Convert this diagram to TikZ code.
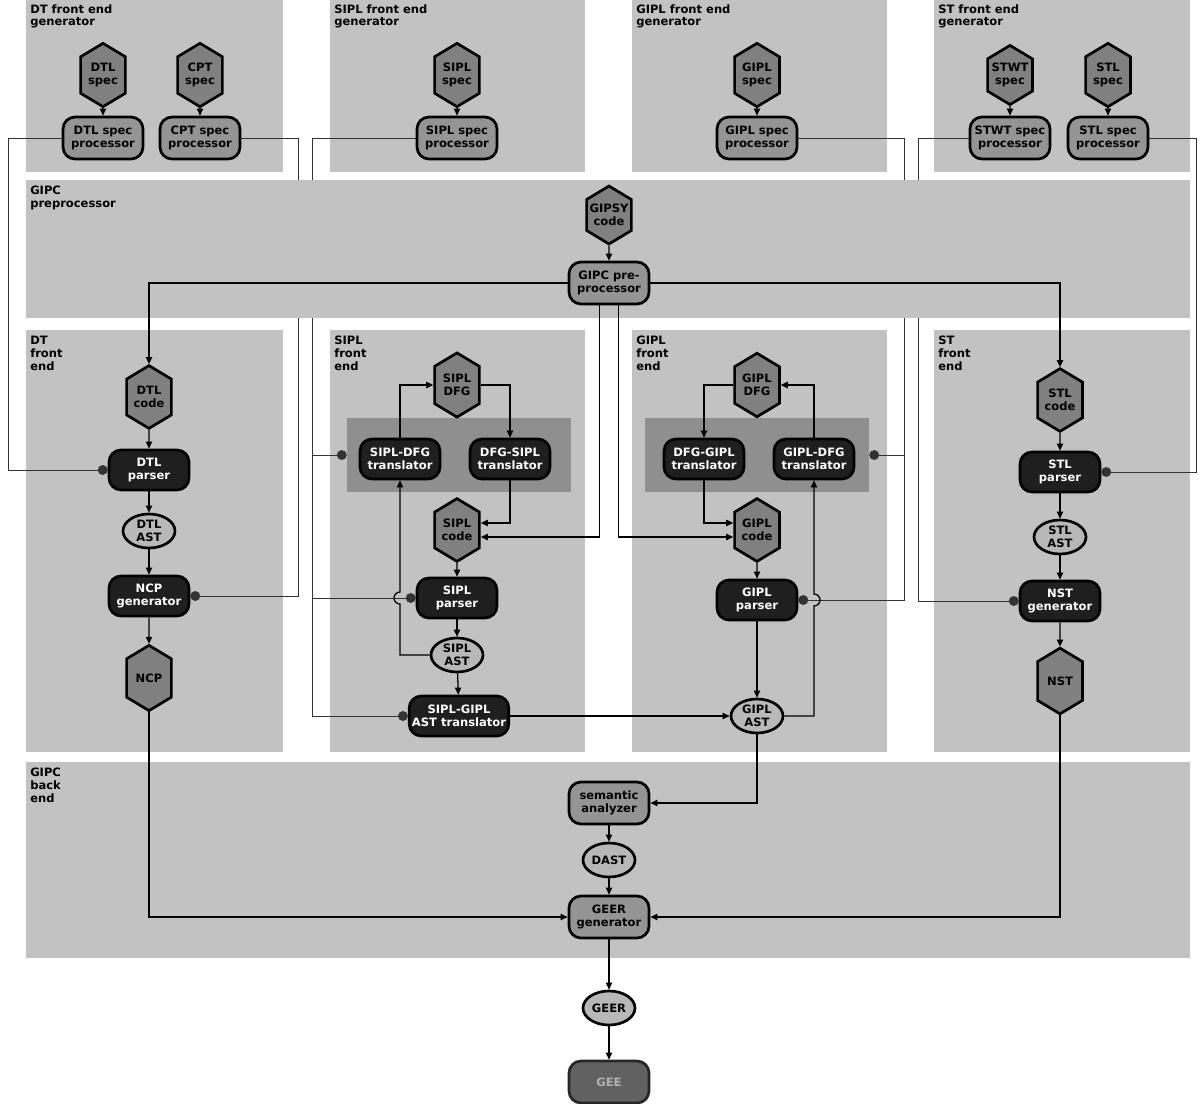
\documentclass[tikz,border=0pt]{standalone}
\usepackage{fontspec}
\setmainfont{DejaVu Sans}
\usetikzlibrary{arrows.meta,shapes.geometric,shapes.symbols,calc}
\pgfdeclarelayer{back}
\pgfdeclarelayer{wires}
\pgfsetlayers{back,wires,main}
\newcommand\boxfont{\fontsize{8.2}{9.2}\selectfont\bfseries}

\begin{document}
\begin{tikzpicture}[x=0.025cm,y=-0.025cm,
  panel/.style={fill=black!24},
  plabel/.style={anchor=north west, align=left, inner sep=0pt, font=\boxfont},
  group/.style={fill=black!44, minimum width=5.6cm, minimum height=1.85cm},
  hexa/.style={signal, signal to=north and south, signal pointer angle=118,
    draw=black, line width=1.9pt, fill=black!50, minimum width=1.12cm,
    minimum height=1.4cm, inner sep=1pt, align=center, font=\boxfont},
  proc/.style={rectangle, rounded corners=0.3cm, draw=black, line width=1.9pt,
    fill=black!42, minimum width=2cm, minimum height=1.05cm, inner sep=2pt,
    align=center, font=\boxfont},
  tool/.style={rectangle, rounded corners=0.3cm, draw=black, line width=1.9pt,
    fill=black!88, text=white, minimum width=2cm, minimum height=1cm,
    inner sep=2pt, align=center, font=\boxfont},
  datum/.style={ellipse, draw=black, line width=1.9pt, fill=black!28,
    minimum width=1.3cm, minimum height=0.85cm, inner sep=0pt, align=center,
    font=\boxfont},
  gee/.style={rectangle, rounded corners=0.3cm, draw=black!85, line width=1.9pt,
    fill=black!62, text=black!30, minimum width=2cm, minimum height=1.05cm,
    font=\boxfont},
  flow/.style={draw=black, line width=0.9pt, -{Triangle[length=5pt,width=4.5pt]}},
  spec/.style={draw=black!80, line width=0.5pt, -{Circle[length=7pt]}}]
\useasboundingbox (0,0) rectangle (1204,1104);

% panels
\begin{pgfonlayer}{back}
\fill[panel] (26,0) rectangle (283,172);
\fill[panel] (330,0) rectangle (585,172);
\fill[panel] (632,0) rectangle (887,172);
\fill[panel] (934,0) rectangle (1190,172);
\fill[panel] (26,330) rectangle (283,752);
\fill[panel] (330,330) rectangle (585,752);
\fill[panel] (632,330) rectangle (887,752);
\fill[panel] (934,330) rectangle (1190,752);
\fill[panel] (26,762) rectangle (1190,958);
\end{pgfonlayer}
\fill[panel] (26,180) rectangle (1190,318);

\node[plabel] (lbldtg) at (30,4) {DT front end\\generator};
\node[plabel] (lblsipg) at (334,4) {SIPL front end\\generator};
\node[plabel] (lblgipg) at (636,4) {GIPL front end\\generator};
\node[plabel] (lblstg) at (938,4) {ST front end\\generator};
\node[plabel] (lblpre) at (30,186) {GIPC\\preprocessor};
\node[plabel] (lbldt) at (30,336) {DT\\front\\end};
\node[plabel] (lblsip) at (334,336) {SIPL\\front\\end};
\node[plabel] (lblgip) at (636,336) {GIPL\\front\\end};
\node[plabel] (lblst) at (938,336) {ST\\front\\end};
\node[plabel] (lblback) at (30,768) {GIPC\\back\\end};

% front end generators
\node[hexa] (dtlspec) at (103,75) {DTL\\spec};
\node[proc] (dtlproc) at (103,138) {DTL spec\\processor};
\node[hexa] (cptspec) at (200,75) {CPT\\spec};
\node[proc] (cptproc) at (200,138) {CPT spec\\processor};
\node[hexa] (siplspec) at (457,75) {SIPL\\spec};
\node[proc] (siplproc) at (457,138) {SIPL spec\\processor};
\node[hexa] (giplspec) at (757,75) {GIPL\\spec};
\node[proc] (giplproc) at (757,138) {GIPL spec\\processor};
\node[hexa] (stwtspec) at (1010,75) {STWT\\spec};
\node[proc] (stwtproc) at (1010,138) {STWT spec\\processor};
\node[hexa] (stlspec) at (1108,75) {STL\\spec};
\node[proc] (stlproc) at (1108,138) {STL spec\\processor};

% preprocessor
\node[hexa] (gipsy) at (609,215) {GIPSY\\code};
\node[proc] (gipc) at (609,283) {GIPC pre-\\processor};

% DT front end
\node[hexa] (dtlcode) at (149,397) {DTL\\code};
\node[tool] (dtlparser) at (149,470) {DTL\\parser};
\node[datum] (dtlast) at (149,531) {DTL\\AST};
\node[tool] (ncpgen) at (149,596) {NCP\\generator};
\node[hexa] (ncp) at (149,678) {NCP};

% SIPL front end
\node[group] (sgroup) at (459,455) {};
\node[hexa] (sipldfg) at (457,385) {SIPL\\DFG};
\node[tool] (sdfgtrans) at (400,459) {SIPL-DFG\\translator};
\node[tool] (dsipltrans) at (510,459) {DFG-SIPL\\translator};
\node[hexa] (siplcode) at (457,530) {SIPL\\code};
\node[tool] (siplparser) at (457,598) {SIPL\\parser};
\node[datum] (siplast) at (457,655) {SIPL\\AST};
\node[tool] (sgtrans) at (459,716) {SIPL-GIPL\\AST translator};

% GIPL front end
\node[group] (ggroup) at (757,455) {};
\node[hexa] (gipldfg) at (757,385) {GIPL\\DFG};
\node[tool] (dgipltrans) at (704,459) {DFG-GIPL\\translator};
\node[tool] (gdfgtrans) at (814,459) {GIPL-DFG\\translator};
\node[hexa] (giplcode) at (757,530) {GIPL\\code};
\node[tool] (giplparser) at (757,600) {GIPL\\parser};
\node[datum] (giplast) at (757,716) {GIPL\\AST};

% ST front end
\node[hexa] (stlcode) at (1060,400) {STL\\code};
\node[tool] (stlparser) at (1060,472) {STL\\parser};
\node[datum] (stlast) at (1060,537) {STL\\AST};
\node[tool] (nstgen) at (1060,601) {NST\\generator};
\node[hexa] (nst) at (1060,681) {NST};

% back end
\node[proc] (semantic) at (609,803) {semantic\\analyzer};
\node[datum] (dast) at (609,860) {DAST};
\node[proc] (geergen) at (609,917) {GEER\\generator};
\node[datum] (geer) at (609,1008) {GEER};
\node[gee] (gee) at (609,1082) {GEE};

% spec buses
\coordinate (busdt) at (8,0);
\coordinate (buscpt) at (298,0);
\coordinate (bussipl) at (312,0);
\coordinate (busgipl) at (904,0);
\coordinate (busstwt) at (918,0);
\coordinate (busstl) at (1196,0);

\begin{pgfonlayer}{wires}
\draw[spec] (dtlproc.west) -| (busdt |- dtlparser.west) -- (dtlparser.west);
\draw[spec] (cptproc.east) -| (buscpt |- ncpgen.east) -- (ncpgen.east);
\draw[spec] (siplproc.west) -| (bussipl |- sgtrans.west) -- (sgtrans.west);
\draw[spec] (bussipl |- sgroup.west) -- (sgroup.west);
\draw[spec] (bussipl |- siplparser.west) -- (siplparser.west);
\draw[spec] (giplproc.east) -| (busgipl |- giplparser.east) -- (giplparser.east);
\draw[spec] (busgipl |- ggroup.east) -- (ggroup.east);
\draw[spec] (stwtproc.west) -| (busstwt |- nstgen.west) -- (nstgen.west);
\draw[spec] (stlproc.east) -| (busstl |- stlparser.east) -- (stlparser.east);
\end{pgfonlayer}

% straight flows
\foreach \a/\b in {dtlspec/dtlproc, cptspec/cptproc, siplspec/siplproc,
    giplspec/giplproc, stwtspec/stwtproc, stlspec/stlproc, gipsy/gipc,
    dtlcode/dtlparser, dtlparser/dtlast, dtlast/ncpgen, ncpgen/ncp,
    siplcode/siplparser, siplparser/siplast, siplast/sgtrans,
    giplcode/giplparser, giplparser/giplast,
    stlcode/stlparser, stlparser/stlast, stlast/nstgen, nstgen/nst,
    semantic/dast, dast/geergen, geergen/geer, geer/gee}
  \draw[flow] (\a) -- (\b);

% preprocessor outputs
\draw[flow] (gipc.west) -| (dtlcode.north);
\draw[flow] (gipc.east) -| (stlcode.north);
\draw[flow] ([xshift=-7pt]gipc.south) |- ([yshift=-5pt]siplcode.east);
\draw[flow] ([xshift=7pt]gipc.south) |- ([yshift=-5pt]giplcode.west);

% DFG loops
\draw[flow] (sdfgtrans.north) |- (sipldfg.west);
\draw[flow] (sipldfg.east) -| (dsipltrans.north);
\draw[flow] (dsipltrans.south) |- ([yshift=5pt]siplcode.east);
\draw[flow] (siplast.west) -- (sdfgtrans.south |- siplast.west)
  -- ($(sdfgtrans.south |- siplparser.west)+(0,6)$) arc (90:270:6)
  -- (sdfgtrans.south);
\draw[flow] (gipldfg.west) -| (dgipltrans.north);
\draw[flow] (gdfgtrans.north) |- (gipldfg.east);
\draw[flow] (dgipltrans.south) |- ([yshift=5pt]giplcode.west);
\draw[flow] (giplast.east) -- (gdfgtrans.south |- giplast.east)
  -- ($(gdfgtrans.south |- giplparser.east)+(0,6)$) arc (90:-90:6)
  -- (gdfgtrans.south);

% into the back end
\draw[flow] (sgtrans.east) -- (giplast.west);
\draw[flow] (giplast.south) |- (semantic.east);
\draw[flow] (ncp.south) |- (geergen.west);
\draw[flow] (nst.south) |- (geergen.east);
\end{tikzpicture}
\end{document}
